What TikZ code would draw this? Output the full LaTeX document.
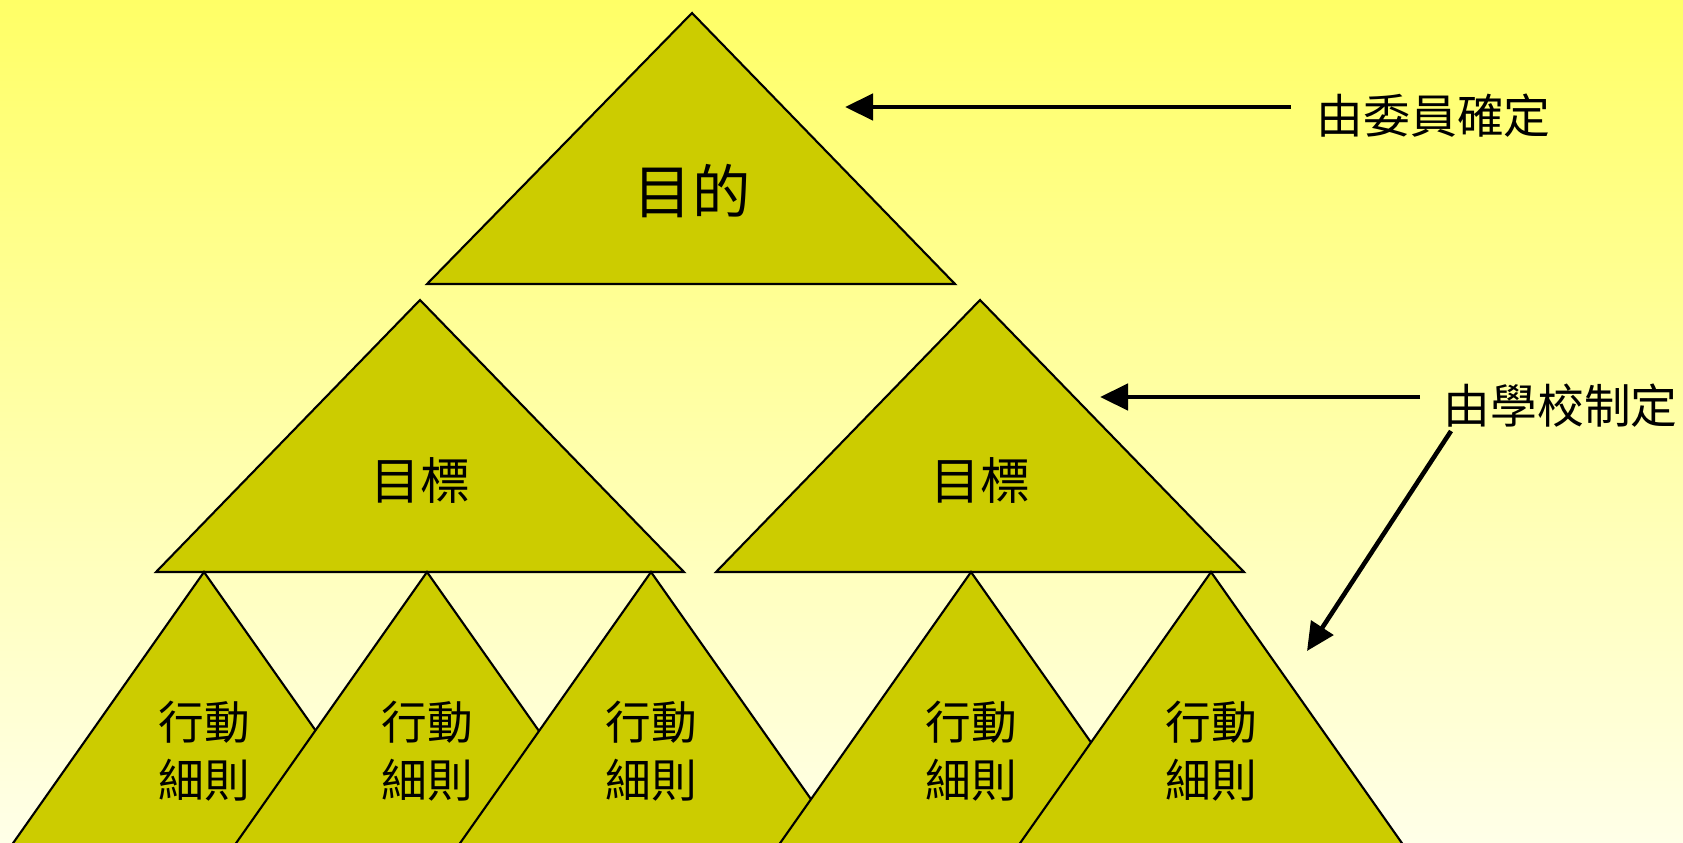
\documentclass[tikz,border=0pt]{standalone}
\usepackage{fontspec}
\newfontfamily\cjk{Noto Sans CJK TC}
\usetikzlibrary{arrows.meta,positioning}
\definecolor{olivefill}{HTML}{CCCC00}
\definecolor{bgtop}{HTML}{FFFF66}
\definecolor{bgbottom}{HTML}{FFFFE8}
\tikzstyle{tri}=[draw, fill=olivefill, line width=0.6pt, line join=miter]
\tikzstyle{arrow}=[line width=1.3pt,-{Triangle[length=0.28cm,width=0.26cm]}]
\tikzstyle{lbl}=[font=\cjk\fontsize{13.3pt}{16pt}\selectfont, inner sep=0pt]
\tikzstyle{act}=[font=\cjk\fontsize{13pt}{16.5pt}\selectfont, align=center, inner sep=0pt]

\begin{document}
\begin{tikzpicture}[x=0.01cm,y=-0.01cm]
\shade[top color=bgtop,bottom color=bgbottom] (0,0) rectangle (1683,842);
\useasboundingbox (0,0) rectangle (1683,842);
\begin{scope}
\clip (0,0) rectangle (1683,842);
% top and middle levels
\draw[tri] (692,13) -- (955,284) -- (427,284) -- cycle;
\draw[tri] (420,300) -- (684,572) -- (156,572) -- cycle;
\draw[tri] (980,300) -- (1244,572) -- (716,572) -- cycle;
% bottom level, later ones on top
\foreach \x in {204,427,651,971,1211}
  \draw[tri] (\x,572) -- ++(231,328) -- ++(-462,0) -- cycle;
\end{scope}

\node (goal) [font=\cjk\fontsize{16.6pt}{19pt}\selectfont] at (692,191) {目的};
\node (aimL) [font=\cjk\fontsize{14.2pt}{17pt}\selectfont] at (420,480) {目標};
\node (aimR) [font=\cjk\fontsize{14.2pt}{17pt}\selectfont] at (980,480) {目標};
\node (act1) [act] at (204,751) {行動\\細則};
\node (act2) [act] at (427,751) {行動\\細則};
\node (act3) [act] at (651,751) {行動\\細則};
\node (act4) [act] at (971,751) {行動\\細則};
\node (act5) [act] at (1211,751) {行動\\細則};

\node (committee) [lbl, anchor=west] at (1316,116) {由委員確定};
\node (school) [lbl, anchor=west] at (1443,406) {由學校制定};
\coordinate (tipTop) at (845,107);
\coordinate (tipMid) at (1100,397);
\coordinate (tipLow) at (1307,651);

\draw[arrow] (committee.west)++(-25,-9) coordinate (startTop) -- (startTop -| tipTop);
\draw[arrow] (school.west)++(-23,-9) coordinate (startMid) -- (startMid -| tipMid);
\draw[arrow] (1451,431) coordinate (startLow) -- (tipLow);
\end{tikzpicture}
\end{document}
